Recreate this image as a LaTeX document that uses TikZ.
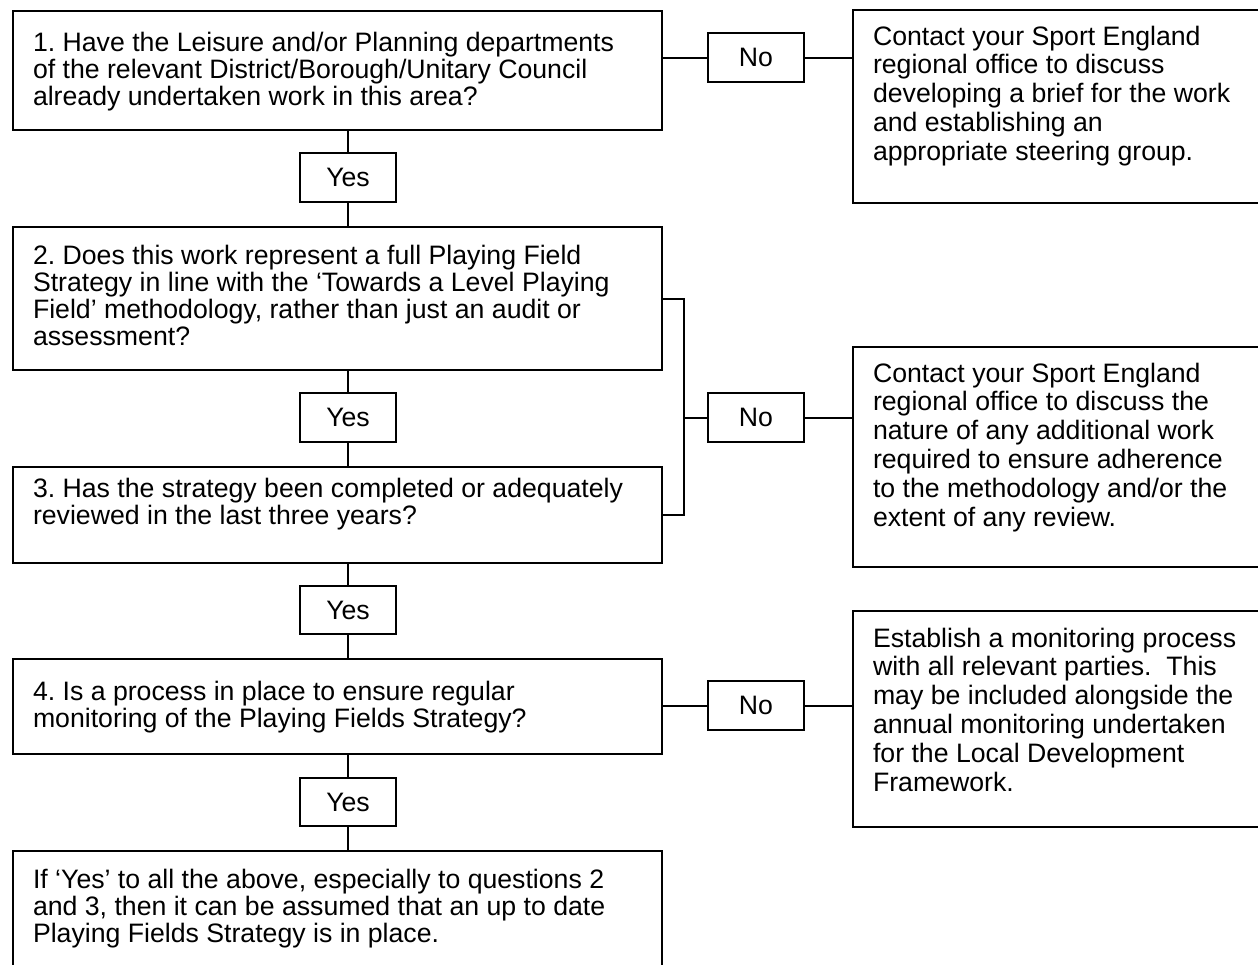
\documentclass[tikz,border=0pt]{standalone}
\usepackage{fontspec}
\setmainfont{Liberation Sans}
\usetikzlibrary{positioning}
\frenchspacing

% one pixel of the layout grid
\newcommand{\pxl}[1]{\dimexpr0.45pt*#1\relax}
% text of a box: height, width, first baseline, lines
\newcommand{\boxtxt}[4]{\parbox[c][\pxl{#1}][t]{\pxl{#2}}{\raggedright\rule{0pt}{\pxl{#3}}#4}}

\tikzset{
    qbox/.style={draw, line width=0.9pt, anchor=north west, inner xsep=9pt, inner ysep=0pt},
    abox/.style={qbox, font=\fontsize{12pt}{13pt}\selectfont},
    lbl/.style={draw, line width=0.9pt, minimum width=43.6pt, minimum height=22pt, inner sep=0pt},
    link/.style={line width=0.9pt}
}

\begin{document}
\begin{tikzpicture}[x=0.45pt, y=-0.45pt, font=\fontsize{12pt}{12.2pt}\selectfont]
    \clip (0,0) rectangle (1258,964);
    % questions
    \node[qbox] (q1) at (12,10) {\boxtxt{119}{609}{40}{1. Have the Leisure and/or Planning departments\\ of the relevant District/Borough/Unitary Council\\ already undertaken work in this area?}};
    \node[qbox] (q2) at (12,226) {\boxtxt{143}{609}{37}{2. Does this work represent a full Playing Field\\ Strategy in line with the ‘Towards a Level Playing\\ Field’ methodology, rather than just an audit or\\ assessment?}};
    \node[qbox] (q3) at (12,466) {\boxtxt{96}{609}{30}{3. Has the strategy been completed or adequately\\ reviewed in the last three years?}};
    \node[qbox] (q4) at (12,658) {\boxtxt{95}{609}{41}{4. Is a process in place to ensure regular\\ monitoring of the Playing Fields Strategy?}};
    \node[qbox] (q5) at (12,850) {\boxtxt{130}{609}{37}{If ‘Yes’ to all the above, especially to questions 2\\ and 3, then it can be assumed that an up to date\\ Playing Fields Strategy is in place.}};
    % advice
    \node[abox] (r1) at (852,9) {\boxtxt{193}{400}{35}{Contact your Sport England\\ regional office to discuss\\ developing a brief for the work\\ and establishing an\\ appropriate steering group.}};
    \node[abox] (r2) at (852,346) {\boxtxt{220}{400}{35}{Contact your Sport England\\ regional office to discuss the\\ nature of any additional work\\ required to ensure adherence\\ to the methodology and/or the\\ extent of any review.}};
    \node[abox] (r3) at (852,610) {\boxtxt{216}{400}{36}{Establish a monitoring process\\ with all relevant parties.\ \ This\\ may be included alongside the\\ annual monitoring undertaken\\ for the Local Development\\ Framework.}};
    % answers
    \node[lbl] (yes1) at (348,177.5) {Yes};
    \node[lbl] (yes2) at (348,417.5) {Yes};
    \node[lbl] (yes3) at (348,610) {Yes};
    \node[lbl] (yes4) at (348,802) {Yes};
    \node[lbl] (no1) at (756,57.5) {No};
    \node[lbl] (no2) at (756,417.5) {No};
    \node[lbl] (no3) at (756,705.5) {No};
    \coordinate (brk) at (684,417.5);
    % connectors
    \draw[link] (yes1.north) -- (yes1.north |- q1.south);
    \draw[link] (yes1.south) -- (yes1.south |- q2.north);
    \draw[link] (yes2.north) -- (yes2.north |- q2.south);
    \draw[link] (yes2.south) -- (yes2.south |- q3.north);
    \draw[link] (yes3.north) -- (yes3.north |- q3.south);
    \draw[link] (yes3.south) -- (yes3.south |- q4.north);
    \draw[link] (yes4.north) -- (yes4.north |- q4.south);
    \draw[link] (yes4.south) -- (yes4.south |- q5.north);
    \draw[link] (no1.west) -- (no1.west -| q1.east);
    \draw[link] (no1.east) -- (no1.east -| r1.west);
    \draw[link] (q2.east) -| (brk) |- (q3.east);
    \draw[link] (brk) -- (no2.west);
    \draw[link] (no2.east) -- (no2.east -| r2.west);
    \draw[link] (no3.west) -- (no3.west -| q4.east);
    \draw[link] (no3.east) -- (no3.east -| r3.west);
\end{tikzpicture}
\end{document}
